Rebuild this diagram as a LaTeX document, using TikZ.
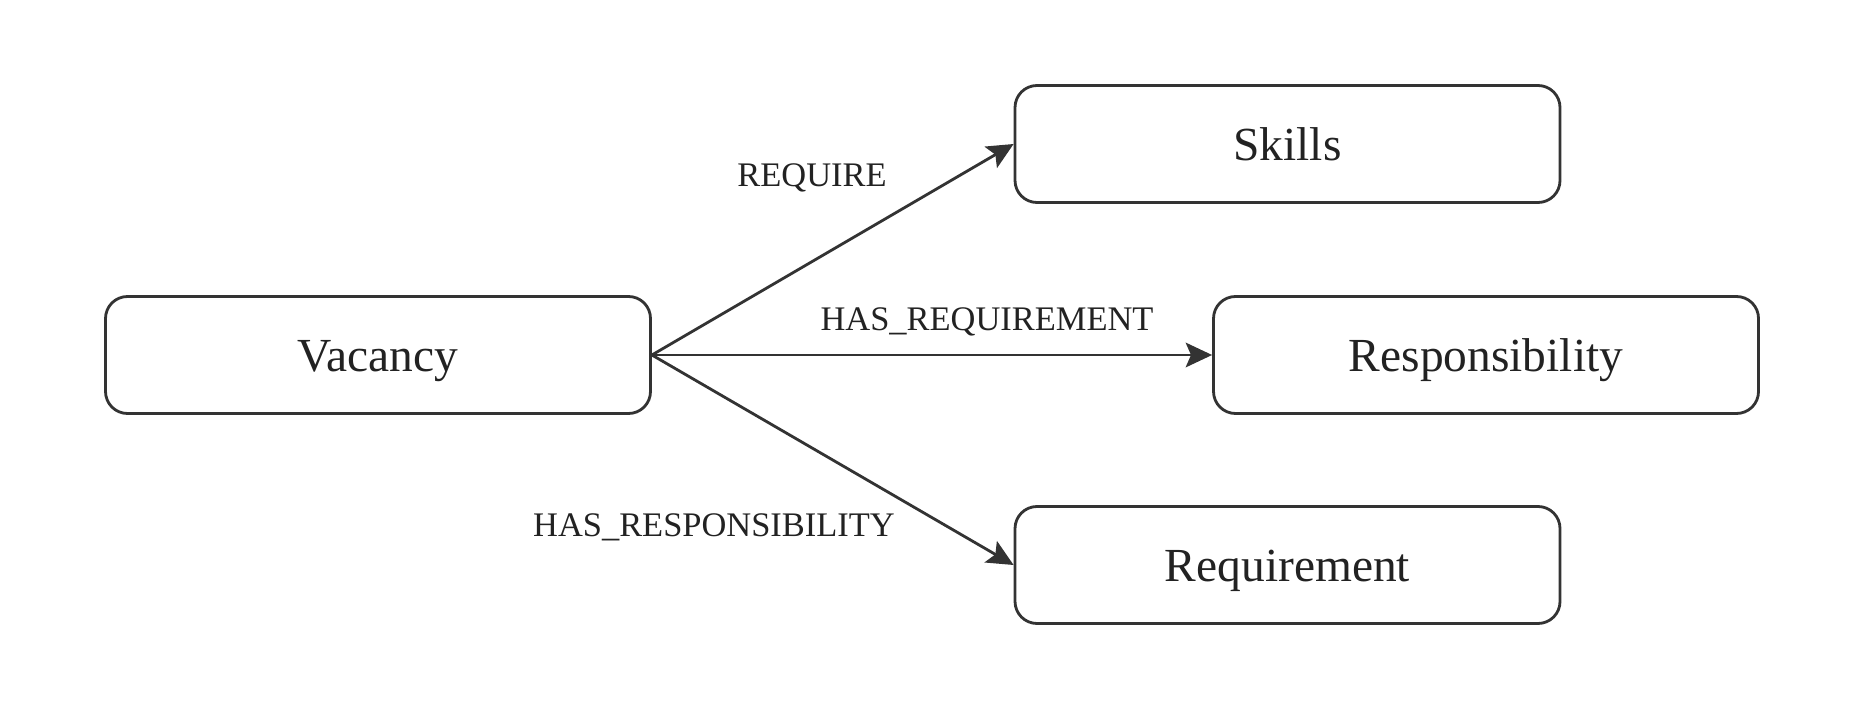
\documentclass[tikz,border=0pt]{standalone}
\usepackage{fontspec}
\setmainfont{Liberation Serif}
\usetikzlibrary{arrows.meta}

\definecolor{inkgray}{HTML}{333333}
\definecolor{textgray}{HTML}{222222}
\tikzset{
  entity/.style={draw=inkgray,rectangle,rounded corners=0.22cm,line width=0.8pt,
    minimum width=5.45cm,minimum height=1.17cm,text=textgray,
    font=\fontsize{13.5}{16}\selectfont,text height=9.5pt,text depth=0pt},
  rel/.style={draw=inkgray,line width=0.8pt,-{Stealth[length=7.5pt,width=7pt,inset=1.5pt]}},
  rellabel/.style={anchor=base,text=textgray,font=\fontsize{9.8}{12}\selectfont}
}

\begin{document}
\begin{tikzpicture}
\useasboundingbox (0,0) rectangle (18.57,-7.02);
\node[entity] (VAC) at (3.78,-3.55) {Vacancy};
\node[entity] (SKL) at (12.875,-1.44) {Skills};
\node[entity] (RSP) at (14.86,-3.55) {Responsibility};
\node[entity] (REQ) at (12.875,-5.65) {Requirement};
\draw[rel] (VAC.east) -- (SKL.west);
\draw[rel] (VAC.east) -- (RSP.west);
\draw[rel] (VAC.east) -- (REQ.west);
\node[rellabel] (L1) at (8.12,-1.867) {REQUIRE};
\node[rellabel] (L2) at (9.87,-3.305) {HAS\_REQUIREMENT};
\node[rellabel] (L3) at (7.14,-5.368) {HAS\_RESPONSIBILITY};
\end{tikzpicture}
\end{document}
